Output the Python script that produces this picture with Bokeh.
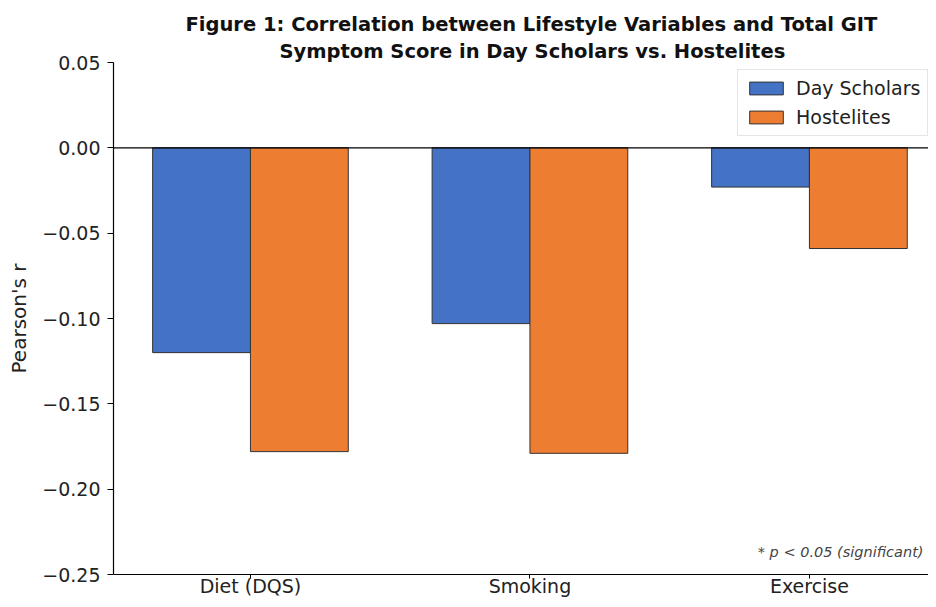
import numpy as np
from bokeh.plotting import figure
from bokeh.models import (ColumnDataSource, Range1d, FixedTicker, CustomJSTickFormatter,
                          Span, Label, Legend, Title)
from bokeh.transform import dodge
from bokeh.embed import file_html
from bokeh.resources import INLINE

categories = ["Diet (DQS)", "Smoking", "Exercise"]
day_scholars = [-0.120, -0.103, -0.023]
hostelites = [-0.178, -0.179, -0.059]
y_ticks = [-0.25, -0.20, -0.15, -0.10, -0.05, 0.00, 0.05]
title_lines = ["Figure 1: Correlation between Lifestyle Variables and Total GIT",
               "Symptom Score in Day Scholars vs. Hostelites"]

FONT = "DejaVu Sans"
BLUE = "#4472C4"
ORANGE = "#ED7D31"

x_idx = list(np.arange(len(categories)))
source = ColumnDataSource(dict(x=x_idx, ds=day_scholars, h=hostelites))

p = figure(width=928, height=599, output_backend="svg", toolbar_location=None,
           x_range=Range1d(-0.49, 2.426), y_range=Range1d(-0.25, 0.05),
           min_border_left=113, min_border_right=0, min_border_top=62,
           min_border_bottom=25)

# title: first line farther from the frame, second line nearer
p.title.text = title_lines[0]
p.title.text_font = FONT
p.title.text_font_size = "19.5px"
p.title.text_font_style = "bold"
p.title.align = "left"
p.title.offset = 72
p.title.text_color = "#111111"
p.title.standoff = 3
p.title.vertical_align = "bottom"
p.title.text_line_height = 1.0
t2 = Title(text=title_lines[1], text_font=FONT, text_font_size="19.5px",
           text_font_style="bold", align="left", offset=166, text_color="#111111",
           standoff=0, vertical_align="bottom", text_line_height=1.0)
p.add_layout(t2, "above")

w = 0.35
r1 = p.vbar(x=dodge("x", -w / 2), top="ds", bottom=0, width=w, source=source,
            fill_color=BLUE, line_color="#333333", line_width=1)
r2 = p.vbar(x=dodge("x", w / 2), top="h", bottom=0, width=w, source=source,
            fill_color=ORANGE, line_color="#333333", line_width=1)

p.add_layout(Span(location=0, dimension="width", line_color="black", line_width=1.2))

legend = Legend(items=[("Day Scholars", [r1]), ("Hostelites", [r2])],
                location=(624, 438))
legend.label_text_font = FONT
legend.label_text_font_size = "19px"
legend.label_text_color = "#222222"
legend.glyph_width = 42
legend.glyph_height = 16
legend.spacing = 7
legend.padding = 7
legend.margin = 0
legend.label_standoff = 9
legend.border_line_color = "#cccccc"
legend.border_line_width = 1
legend.background_fill_alpha = 0.9
p.add_layout(legend)

p.add_layout(Label(x=1.815, y=-0.237, text="* p < 0.05 (significant)",
                   text_font=FONT, text_font_size="14.5px", text_font_style="italic",
                   text_color="#444444", text_baseline="middle", text_align="left"))

# axes
p.xgrid.visible = False
p.ygrid.visible = False
p.outline_line_color = None

p.xaxis.ticker = FixedTicker(ticks=x_idx)
p.xaxis.major_label_overrides = {i: c for i, c in zip(x_idx, categories)}
p.xaxis.minor_tick_line_color = None
p.yaxis.ticker = FixedTicker(ticks=y_ticks)
p.yaxis.minor_tick_line_color = None
p.yaxis.formatter = CustomJSTickFormatter(
    code="return (tick < -1e-9 ? '\u2212' : '') + Math.abs(tick).toFixed(2);")

for ax in (p.xaxis, p.yaxis):
    ax.axis_line_color = "black"
    ax.axis_line_width = 1.2
    ax.major_tick_line_color = "black"
    ax.major_tick_in = 0
    ax.major_label_text_font = FONT
    ax.major_label_text_font_size = "19px"
    ax.major_label_text_color = "#222222"
p.xaxis.major_tick_out = 4
p.xaxis.major_label_standoff = -4
p.yaxis.major_tick_out = 6
p.yaxis.major_label_standoff = 7

p.yaxis.axis_label = "Pearson's r"
p.yaxis.axis_label_text_font = FONT
p.yaxis.axis_label_text_font_size = "20px"
p.yaxis.axis_label_text_font_style = "normal"
p.yaxis.axis_label_text_color = "#222222"
p.yaxis.axis_label_standoff = 8

open("out.html", "w").write(file_html(p, INLINE))
